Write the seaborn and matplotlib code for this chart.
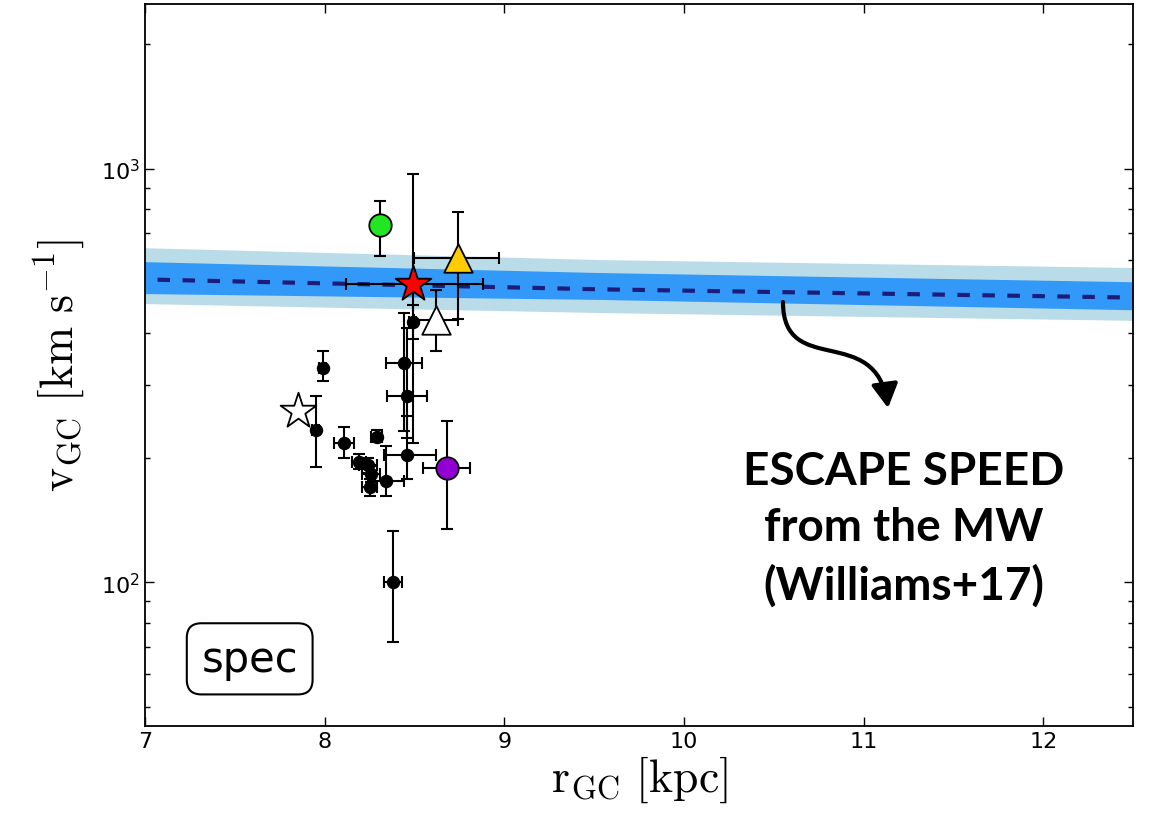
import numpy as np
import pandas as pd
import matplotlib.pyplot as plt
import seaborn as sns
from matplotlib.patches import FancyArrowPatch
from matplotlib.path import Path

# escape speed band (Williams+17)
r_band = [7.0, 9.53, 12.5]
v_esc = [540, 511, 488]
v_dark_lo = [499, 483, 456]
v_dark_hi = [596, 561, 533]
v_light_lo = [472, 449, 430]
v_light_hi = [644, 603, 577]
r_line = [7.07, 9.53, 12.5]
v_line = [539, 511, 488]

# black points with error bars
bk_r = [7.99, 7.95, 8.11, 8.29, 8.19, 8.24, 8.26, 8.25, 8.34, 8.46, 8.38, 8.44, 8.46, 8.49]
bk_v = [330, 233, 217, 225, 196, 192, 183, 170, 176, 203, 100, 340, 283, 427]
bk_v_lo = [24, 43, 17, 7, 8, 8, 8, 8, 14, 25, 28, 108, 60, 40]
bk_v_hi = [33, 50, 21, 9, 8, 8, 8, 8, 38, 49, 33, 107, 128, 40]
bk_r_lo = [0.02, 0.02, 0.055, 0.03, 0.04, 0.05, 0.05, 0.04, 0.1, 0.13, 0.05, 0.1, 0.11, 0.02]
bk_r_hi = [0.02, 0.02, 0.055, 0.03, 0.04, 0.05, 0.05, 0.04, 0.1, 0.16, 0.05, 0.1, 0.11, 0.02]

# highlighted objects
red_r, red_v = [8.49], [527]
red_v_err = [[310], [445]]
red_r_err = [[0.37], [0.39]]

green_r, green_v = [8.31], [729]
green_v_err = [[113], [108]]

yellow_r, yellow_v = [8.74], [607]
yellow_v_err = [[173], [180]]
yellow_r_err = [[0.24], [0.23]]

white_tri_r, white_tri_v = [8.62], [430]
white_tri_v_err = [[68], [80]]
white_tri_r_err = [[0.125], [0.125]]

white_star_r, white_star_v = [7.85], [260]

purple_r, purple_v = [8.68], [189]
purple_v_err = [[54], [57]]
purple_r_err = [[0.13], [0.13]]

sns.set_theme(style="ticks", rc={
    "xtick.direction": "in", "ytick.direction": "in",
    "xtick.top": True, "ytick.right": True,
    "xtick.major.size": 6.5, "ytick.major.size": 6.5,
    "ytick.minor.size": 3.5, "xtick.major.width": 1, "ytick.major.width": 1,
    "ytick.minor.width": 1, "axes.linewidth": 1.3, "axes.edgecolor": "black",
    "xtick.labelsize": 16, "ytick.labelsize": 16,
    "xtick.color": "black", "ytick.color": "black",
    "text.color": "black", "axes.labelcolor": "black",
})
plt.rcParams["font.family"] = ["DejaVu Sans"]
plt.rcParams["mathtext.fontset"] = "cm"

fig, ax = plt.subplots(figsize=(11.55, 8.28), dpi=100)
fig.subplots_adjust(left=0.1255, right=0.981, bottom=0.122, top=0.994)

ax.fill_between(r_band, v_light_lo, v_light_hi, color="#badce8", lw=0, zorder=1)
ax.fill_between(r_band, v_dark_lo, v_dark_hi, color="#3399f8", lw=0, zorder=1.1)
sns.lineplot(x=r_line, y=v_line, ax=ax, color="#1c1c7a", lw=3, dashes=False, zorder=1.2)
ax.lines[-1].set_dashes((3, 3))

eb = dict(fmt="none", ecolor="black", elinewidth=1.5, capsize=4.5, capthick=1.5, zorder=3)
ax.errorbar(bk_r, bk_v, xerr=[bk_r_lo, bk_r_hi], yerr=[bk_v_lo, bk_v_hi], **eb)
ax.errorbar(red_r, red_v, xerr=red_r_err, yerr=red_v_err, **eb)
ax.errorbar(green_r, green_v, yerr=green_v_err, **eb)
ax.errorbar(yellow_r, yellow_v, xerr=yellow_r_err, yerr=yellow_v_err, **eb)
ax.errorbar(white_tri_r, white_tri_v, xerr=white_tri_r_err, yerr=white_tri_v_err, **eb)
ax.errorbar(purple_r, purple_v, xerr=purple_r_err, yerr=purple_v_err, **eb)

sns.scatterplot(x=bk_r, y=bk_v, ax=ax, color="black", s=75, marker="o",
                edgecolor="black", linewidth=1, zorder=4)
sns.scatterplot(x=green_r, y=green_v, ax=ax, color="#22e622", s=260, marker="o",
                edgecolor="black", linewidth=1.3, zorder=5)
sns.scatterplot(x=purple_r, y=purple_v, ax=ax, color="#9400d3", s=260, marker="o",
                edgecolor="black", linewidth=1.3, zorder=5)
sns.scatterplot(x=yellow_r, y=yellow_v, ax=ax, color="#ffcc00", s=420, marker="^",
                edgecolor="black", linewidth=1.3, zorder=5)
sns.scatterplot(x=white_tri_r, y=white_tri_v, ax=ax, color="white", s=420, marker="^",
                edgecolor="black", linewidth=1.3, zorder=5)
sns.scatterplot(x=white_star_r, y=white_star_v, ax=ax, color="white", s=730, marker="*",
                edgecolor="black", linewidth=1.3, zorder=5)
sns.scatterplot(x=red_r, y=red_v, ax=ax, color="red", s=730, marker="*",
                edgecolor="black", linewidth=1.3, zorder=6)

ax.set_yscale("log")
ax.set_xlim(7, 12.5)
ax.set_ylim(45, 2500)
ax.set_xticks([7, 8, 9, 10, 11, 12])
ax.set_xlabel(r"$\mathrm{r_{GC}\ [kpc]}$", fontsize=33, labelpad=2)
ax.set_ylabel(r"$\mathrm{v_{GC}\ [km\ s^{-1}]}$", fontsize=33, labelpad=10)
for s in ax.spines.values():
    s.set_visible(True)

ax.text(0.106, 0.093, "spec", transform=ax.transAxes, fontsize=30, ha="center", va="center",
        bbox=dict(boxstyle="round,pad=0.35", fc="white", ec="black", lw=1.5), zorder=7)

ax.text(0.768, 0.274, "ESCAPE SPEED\nfrom the MW\n(Williams+17)", transform=ax.transAxes,
        fontsize=33, fontweight="bold", family="Lato", ha="center", va="center",
        linespacing=1.42, zorder=7)

arrow_path = Path([(0.6457, 0.5873), (0.6457, 0.4806), (0.7400, 0.5600), (0.7520, 0.4404)],
                  [Path.MOVETO, Path.CURVE4, Path.CURVE4, Path.CURVE4])
arrow = FancyArrowPatch(path=arrow_path, arrowstyle="-|>,head_length=0.9,head_width=0.5",
                        mutation_scale=16, lw=3, color="black", transform=ax.transAxes,
                        zorder=7)
ax.add_patch(arrow)

fig.savefig("out.png", dpi=100)
